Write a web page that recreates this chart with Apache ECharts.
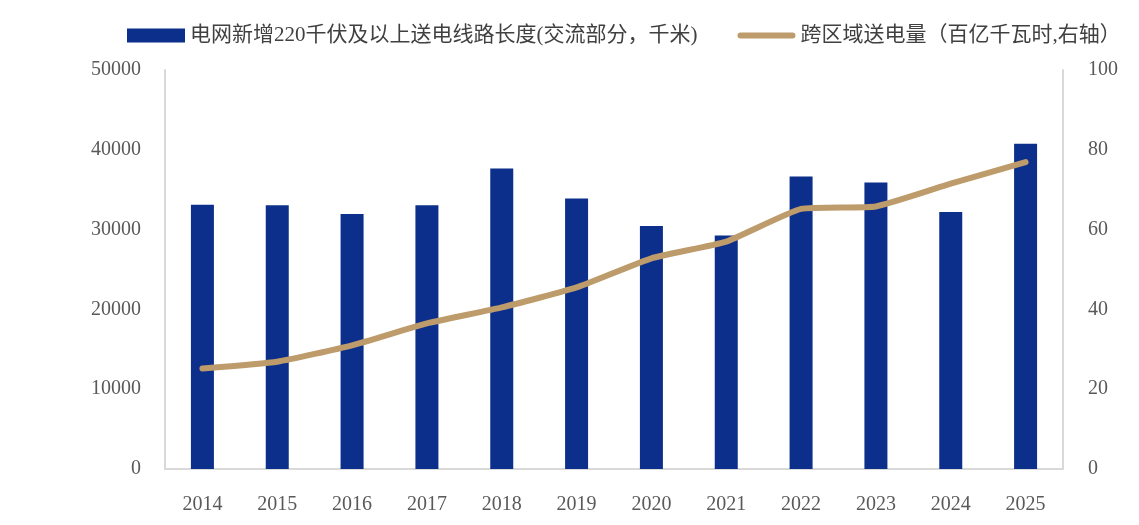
<!DOCTYPE html>
<html>
<head>
<meta charset="utf-8">
<script src="https://cdn.jsdelivr.net/npm/echarts@6/dist/echarts.min.js"></script>
<style>
html,body{margin:0;padding:0;background:#fff;}
#main{width:1139px;height:525px;}
</style>
</head>
<body>
<div id="main"></div>
<script>
// 年份
var years = ['2014','2015','2016','2017','2018','2019','2020','2021','2022','2023','2024','2025'];
// 电网新增220千伏及以上送电线路长度（交流部分，千米）
var lineLength = [33100, 33050, 31950, 33050, 37650, 33900, 30450, 29250, 36650, 35900, 32200, 40750];
// 跨区域送电量（百亿千瓦时）
var transPower = [25.2, 26.9, 31.0, 36.5, 40.5, 45.5, 52.8, 57.0, 65.2, 65.8, 71.5, 76.9];

var barName = '电网新增220千伏及以上送电线路长度(交流部分，千米)';
var lineName = '跨区域送电量（百亿千瓦时,右轴）';

var numFont = '"Liberation Serif", "Noto Sans CJK SC", serif';
// 图例里的粗线（上下留空，保持高度）
var lineIcon = 'path://M0,0 L0.01,0 Z M3,4 L55,4 A3,3 0 0 1 55,10 L3,10 A3,3 0 0 1 3,4 Z M0,14 L0.01,14 Z';

var myChart = echarts.init(document.getElementById('main'));
myChart.setOption({
    animation: false,
    textStyle: { fontFamily: numFont },
    legend: {
        top: 20,
        left: 122,
        itemGap: 40,
        itemWidth: 58,
        itemHeight: 14,
        textStyle: { fontSize: 21, color: '#404040', fontFamily: numFont },
        data: [
            { name: barName, icon: 'rect' },
            { name: lineName, icon: lineIcon }
        ]
    },
    grid: { left: 165, right: 76, top: 70, bottom: 56 },
    xAxis: {
        type: 'category',
        data: years,
        axisLine: { lineStyle: { color: '#d9d9d9', width: 2 } },
        axisTick: { show: false },
        axisLabel: { fontSize: 20, color: '#595959', margin: 26 }
    },
    yAxis: [
        {
            type: 'value',
            min: 0, max: 50000, interval: 10000,
            axisLine: { show: true, lineStyle: { color: '#d9d9d9', width: 2 } },
            splitLine: { show: false },
            axisTick: { show: false },
            axisLabel: { fontSize: 20, color: '#595959', margin: 24, formatter: function (v) { return String(v); } }
        },
        {
            type: 'value',
            min: 0, max: 100, interval: 20,
            axisLine: { show: true, lineStyle: { color: '#d9d9d9', width: 2 } },
            splitLine: { show: false },
            axisTick: { show: false },
            axisLabel: { fontSize: 20, color: '#595959', margin: 25 }
        }
    ],
    series: [
        {
            name: barName,
            type: 'bar',
            barWidth: 23,
            itemStyle: { color: '#0C2F8C' },
            data: lineLength
        },
        {
            name: lineName,
            type: 'line',
            yAxisIndex: 1,
            symbol: 'none',
            smooth: 0.15,
            lineStyle: { color: '#BD9B6A', width: 6, cap: 'round', join: 'round' },
            itemStyle: { color: '#BD9B6A' },
            data: transPower
        }
    ]
});
</script>
</body>
</html>
